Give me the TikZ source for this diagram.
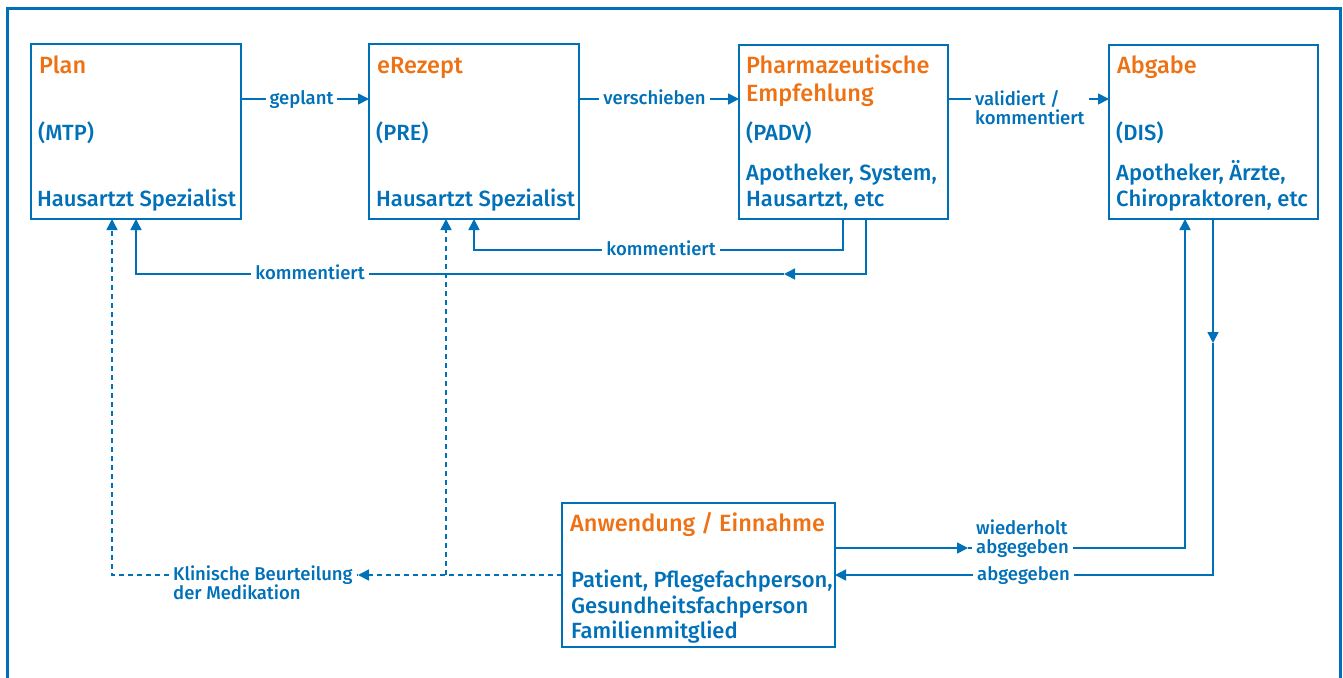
\documentclass[tikz,border=0pt]{standalone}
\usepackage{fontspec}
\setmainfont{Fira Sans}[UprightFont=* Medium, BoldFont=* SemiBold]
\usetikzlibrary{arrows.meta}
\definecolor{ablue}{RGB}{0,112,184}
\definecolor{aorange}{RGB}{238,114,20}

\begin{document}
\begin{tikzpicture}[x=1pt,y=-1pt,
  frame/.style={draw=ablue, line width=3pt},
  box/.style={draw=ablue, line width=1.8pt, fill=white, inner sep=0pt, outer sep=0pt, anchor=north west},
  ttl/.style={anchor=base west, inner sep=0pt, text=aorange, font=\fontsize{23.5}{26}\selectfont},
  txt/.style={anchor=base west, inner sep=0pt, text=ablue, font=\fontsize{22}{26}\selectfont},
  lbl/.style={anchor=base, text=ablue, fill=white, inner xsep=4pt, inner ysep=2pt, font=\fontsize{18.5}{19}\selectfont},
  mlbl/.style={anchor=north west, align=left, text=ablue, fill=white, inner xsep=4pt, inner ysep=2pt, font=\fontsize{18.5}{19}\selectfont},
  conn/.style={draw=ablue, line width=1.6pt, -{Triangle[length=11pt,width=11pt]}},
  dconn/.style={conn, dash pattern=on 5pt off 4pt},
  plain/.style={draw=ablue, line width=1.6pt}
]
\useasboundingbox (0,0) rectangle (1343,677);

% outer frame, open towards the bottom edge
\draw[frame] (7,680) -- (7,9) -- (1340,9) -- (1340,680);

% boxes
\node[box, minimum width=210pt, minimum height=175pt] (plan) at (31,44) {};
\node[box, minimum width=210pt, minimum height=175pt] (erz)  at (369,44) {};
\node[box, minimum width=209pt, minimum height=174pt] (pha)  at (739,45) {};
\node[box, minimum width=209pt, minimum height=174pt] (abg)  at (1109,45) {};
\node[box, minimum width=273pt, minimum height=144pt] (anw)  at (562,503) {};

% box texts
\node[ttl] (planA) at (39,74) {Plan};
\node[txt] (planB) at (38,140) {(MTP)};
\node[txt] (planC) at (37,206) {Hausartzt Spezialist};

\node[ttl] (erzA) at (377,74) {eRezept};
\node[txt] (erzB) at (376,140) {(PRE)};
\node[txt] (erzC) at (376,206) {Hausartzt Spezialist};

\node[ttl] (phaA) at (746,74) {Pharmazeutische};
\node[ttl] (phaB) at (746,101) {Empfehlung};
\node[txt] (phaC) at (746,140) {(PADV)};
\node[txt] (phaD) at (746,180) {Apotheker, System,};
\node[txt] (phaE) at (746,206) {Hausartzt, etc};

\node[ttl] (abgA) at (1117,74) {Abgabe};
\node[txt] (abgB) at (1116,140) {(DIS)};
\node[txt] (abgC) at (1116,180) {Apotheker, Ärzte,};
\node[txt] (abgD) at (1116,206) {Chiropraktoren, etc};

\node[ttl] (anwA) at (570,531) {Anwendung / Einnahme};
\node[txt] (anwB) at (571,587) {Patient, Pflegefachperson,};
\node[txt] (anwC) at (571,613) {Gesundheitsfachperson};
\node[txt] (anwD) at (571,638) {Familienmitglied};

% helper coordinates for the connector routes
\coordinate (r1) at (0,99);
\coordinate (k1) at (843,250);
\coordinate (k2) at (866,274);
\coordinate (k2m) at (784,274);
\coordinate (d1) at (358,575);
\coordinate (d2) at (446,575);
\coordinate (w1) at (968,548);
\coordinate (a1) at (1213,343);

% top row
\draw[conn] (plan.east |- r1) -- (erz.west |- r1);
\node[lbl] (lgep) at (301.5,104) {geplant};
\draw[conn] (erz.east |- r1) -- (pha.west |- r1);
\node[lbl] (lver) at (654.5,104) {verschieben};
\draw[conn] (pha.east |- r1) -- (abg.west |- r1);
\node[mlbl] (lval) at (971,88) {validiert /\\kommentiert};

% comments back to the first two boxes
\draw[conn] (pha.south -| k1) -- (k1) -| (erz.south -| 474,0);
\node[lbl] (lk1) at (661,255) {kommentiert};
\draw[conn] (pha.south -| k2) -- (k2) -- (k2m);
\draw[conn] (k2m) -| (plan.south -| 136,0);
\node[lbl] (lk2) at (310,279) {kommentiert};

% clinical assessment (dashed)
\draw[dconn] (anw.west |- d1) -- (d1);
\draw[dconn] (d1) -| (plan.south -| 112,0);
\draw[dconn] (d2) -- (erz.south -| d2);
\node[mlbl] (lkl) at (169,564) {Klinische Beurteilung\\der Medikation};

% dispensing loop
\draw[conn] (anw.east |- w1) -- (w1);
\draw[conn] (w1) -| (abg.south -| 1185,0);
\node[mlbl] (lwie) at (972,518) {wiederholt\\abgegeben};
\draw[conn] (abg.south -| a1) -- (a1);
\draw[conn] (a1) |- (anw.east |- d1);
\node[lbl] (labg) at (1023.5,580) {abgegeben};
\end{tikzpicture}
\end{document}
